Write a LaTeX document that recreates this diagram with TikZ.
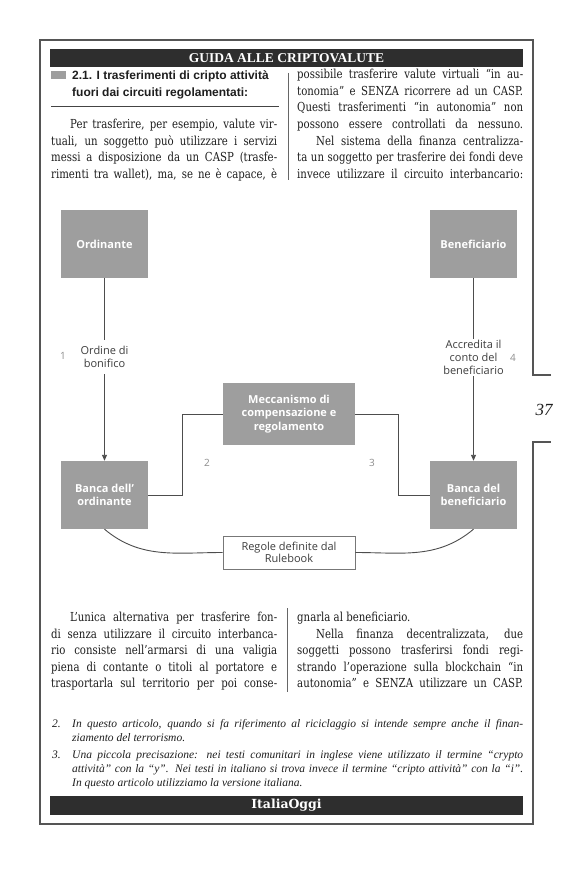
\documentclass[tikz,border=0pt]{standalone}
\usepackage{fontspec}
\setmainfont{Liberation Serif}
\newfontfamily\bodyfont[FakeStretch=0.82]{DejaVu Serif}
\newfontfamily\dsans{Open Sans}
\newfontfamily\hsans{Liberation Sans}
\newfontfamily\logofont{DejaVu Serif}
\usetikzlibrary{arrows.meta}
\definecolor{framec}{HTML}{555555}
\definecolor{barc}{HTML}{2E2E2E}
\definecolor{boxgray}{HTML}{9E9E9E}
\definecolor{connc}{HTML}{4D4D4D}
\definecolor{labc}{HTML}{3D3D3D}
\definecolor{numc}{HTML}{8C8C8C}
\definecolor{textc}{HTML}{1E1E1E}
\definecolor{rulec}{HTML}{444444}
\newlength\colw
\setlength\colw{226pt}
\newlength\fnw
\setlength\fnw{451pt}
\newcommand\jrow[1]{\hbox to\colw{#1}}
\newcommand\lrow[1]{\hbox{#1}}
\newcommand\frow[1]{\hbox to\fnw{#1}}
\tikzset{
  body/.style={anchor=base west, inner sep=0pt, text=textc, font=\bodyfont\fontsize{12.4}{16.6}\selectfont},
  fnote/.style={anchor=base west, inner sep=0pt, text=textc, font=\itshape\fontsize{11.5}{14}\selectfont},
  gbox/.style={fill=boxgray, draw=none, minimum width=87pt, minimum height=68pt, inner sep=0pt,
    align=center, text=white, font=\dsans\bfseries\fontsize{11}{13.2}\selectfont},
  rbox/.style={fill=white, draw=framec!80, line width=0.8pt, minimum width=132pt, minimum height=33pt,
    inner sep=0pt, align=center, text=labc, font=\dsans\fontsize{11}{12}\selectfont},
  lab/.style={align=center, text=labc, inner xsep=0pt, font=\dsans\fontsize{11}{12.8}\selectfont},
  num/.style={text=numc, inner sep=0pt, font=\dsans\fontsize{10}{12}\selectfont},
  conn/.style={draw=connc, line width=0.9pt},
  arr/.style={-{Triangle[length=6pt,width=5pt]}},
  rulel/.style={draw=rulec, line width=0.8pt}
}
\begin{document}
\begin{tikzpicture}[x=1pt,y=-1pt]
\useasboundingbox (0,0) rectangle (580,869);
\fill[white] (0,0) rectangle (580,869);
% frame
\draw[framec, line width=1.2pt] (551,375) -- (533,375) -- (533,40) -- (40,40) -- (40,824) -- (533,824) -- (533,442) -- (551,442);
\node[font=\itshape\fontsize{17}{20}\selectfont, text=textc] (pg) at (544,410) {37};
% title bar
\fill[barc] (50,49) rectangle (523,67);
\node[font=\bfseries\fontsize{13.5}{16}\selectfont, text=white, inner sep=0pt] (title) at (286.5,58.5) {GUIDA ALLE CRIPTOVALUTE};
% heading
\fill[boxgray] (51,71) rectangle (66,79);
\node[anchor=base west, inner sep=0pt, text=textc, font=\hsans\bfseries\fontsize{12}{17}\selectfont] (head) at (72,79.5)
  {\vtop{\lrow{2.1. I trasferimenti di cripto attività}\lrow{fuori dai circuiti regolamentati:}}};
\draw[rulel] (51,106) -- (279,106);
% top columns
\draw[rulel, draw=framec!90] (288,73) -- (288,180);
\node[body] (tl) at (51,128.5) {\vtop{%
\jrow{\kern19pt Per trasferire, per esempio, valute vir-}%
\jrow{tuali, un soggetto può utilizzare i servizi}%
\jrow{messi a disposizione da un CASP (trasfe-}%
\jrow{rimenti tra wallet), ma, se ne è capace, è}}};
\node[body] (tr) at (297,78.7) {\vtop{%
\jrow{possibile trasferire valute virtuali “in au-}%
\jrow{tonomia” e SENZA ricorrere ad un CASP.}%
\jrow{Questi trasferimenti “in autonomia” non}%
\jrow{possono essere controllati da nessuno.}%
\jrow{\kern19pt Nel sistema della finanza centralizza-}%
\jrow{ta un soggetto per trasferire dei fondi deve}%
\jrow{invece utilizzare il circuito interbancario:}}};
% diagram
\node[gbox] (ord) at (104.5,244) {Ordinante};
\node[gbox] (ben) at (473.5,244) {Beneficiario};
\node[gbox] (bo) at (104.5,495) {Banca dell’\\ordinante};
\node[gbox] (bb) at (473.5,495) {Banca del\\beneficiario};
\node[gbox, minimum width=132pt, minimum height=62pt] (mec) at (289,414) {Meccanismo di\\compensazione e\\regolamento};
\node[rbox] (rb) at (289,552.5) {Regole definite dal\\Rulebook};
\node[lab, inner ysep=6.5pt] (l1) at (104.5,357) {Ordine di\\bonifico};
\node[lab, inner ysep=1.5pt] (l4) at (473.5,357.5) {Accredita il\\conto del\\beneficiario};
\node[num] (n1) at (63,356) {1};
\node[num] (n4) at (513,357.5) {4};
\node[num] (n2) at (207,463) {2};
\node[num] (n3) at (372,463) {3};
\draw[conn] (ord) -- (l1);
\draw[conn, arr] (l1) -- (bo);
\draw[conn] (ben) -- (l4);
\draw[conn, arr] (l4) -- (bb);
\draw[conn] (bo.east) -- ++(34,0) |- (mec.west);
\draw[conn] (mec.east) -- ++(43,0) |- (bb.west);
\draw[conn] (bo.south) to[out=-40,in=180] (rb.west);
\draw[conn] (bb.south) to[out=-140,in=0] (rb.east);
% lower columns
\draw[rulel, draw=framec!90] (287,608) -- (287,692);
\node[body] (bl) at (51,621.5) {\vtop{%
\jrow{\kern19pt L’unica alternativa per trasferire fon-}%
\jrow{di senza utilizzare il circuito interbanca-}%
\jrow{rio consiste nell’armarsi di una valigia}%
\jrow{piena di contante o titoli al portatore e}%
\jrow{trasportarla sul territorio per poi conse-}}};
\node[body] (br) at (297,621.5) {\vtop{%
\lrow{gnarla al beneficiario.}%
\jrow{\kern19pt Nella finanza decentralizzata, due}%
\jrow{soggetti possono trasferirsi fondi regi-}%
\jrow{strando l’operazione sulla blockchain “in}%
\jrow{autonomia” e SENZA utilizzare un CASP.}}};
% footnotes
\node[fnote] (f2n) at (52,727) {2.};
\node[fnote] (f2) at (72,727) {\vtop{%
\frow{In questo articolo, quando si fa riferimento al riciclaggio si intende sempre anche il finan-}%
\lrow{ziamento del terrorismo.}}};
\node[fnote] (f3n) at (52,758) {3.};
\node[fnote] (f3) at (72,758) {\vtop{%
\frow{Una piccola precisazione: nei testi comunitari in inglese viene utilizzato il termine “crypto}%
\frow{attività” con la “y”. Nei testi in italiano si trova invece il termine “cripto attività” con la “i”.}%
\lrow{In questo articolo utilizziamo la versione italiana.}}};
% footer bar
\fill[barc] (50,796) rectangle (523,815);
\node[font=\logofont\bfseries\fontsize{12.5}{15}\selectfont, text=white, inner sep=0pt] (logo) at (286.5,805.5) {ItaliaOggi};
\end{tikzpicture}
\end{document}
